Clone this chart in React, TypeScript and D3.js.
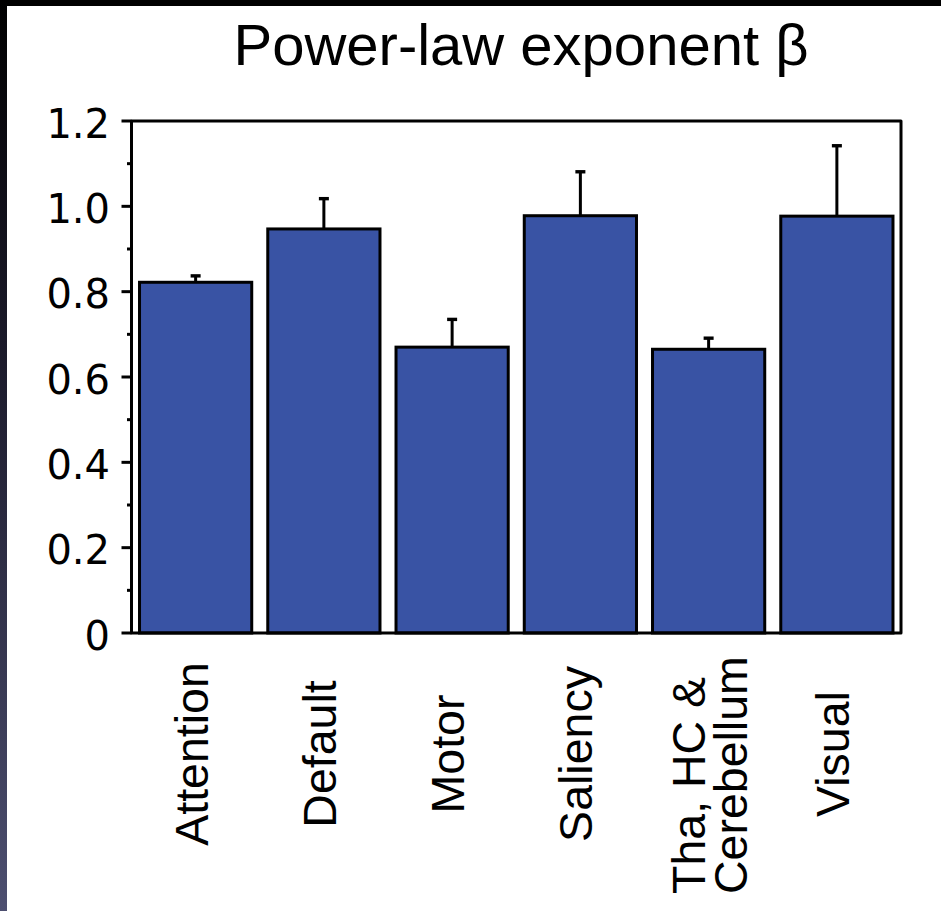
import React from "react";
import * as d3 from "d3";

const categories = ["Attention", "Default", "Motor", "Saliency", "Tha, HC &\nCerebellum", "Visual"];
const betaValues = [0.822, 0.947, 0.670, 0.978, 0.665, 0.977];
const betaErrors = [0.015, 0.071, 0.065, 0.103, 0.026, 0.165];
const yTicks = [0, 0.2, 0.4, 0.6, 0.8, 1.0, 1.2];
const yTickLabels = ["0", "0.2", "0.4", "0.6", "0.8", "1.0", "1.2"];
const yMinorTicks = [0.1, 0.3, 0.5, 0.7, 0.9, 1.1];
const title = "Power-law exponent β";

const W = 941;
const H = 911;
const plot = { left: 131.5, right: 901, top: 121, bottom: 633 };

export default function App() {
  const x = d3
    .scaleBand<string>()
    .domain(categories)
    .range([plot.left, plot.right])
    .paddingInner(0.125)
    .paddingOuter(0.0625);
  const y = d3.scaleLinear().domain([0, 1.2]).range([plot.bottom, plot.top]);
  const bw = x.bandwidth();
  const capW = 10;
  const sansFont = "'Liberation Sans', Arial, Helvetica, sans-serif";
  const tickFont = "'DejaVu Sans', Verdana, sans-serif";
  const sw = 3;

  return (
    <svg
      width={W}
      height={H}
      viewBox={`0 0 ${W} ${H}`}
      style={{ position: "absolute", left: 0, top: 0, display: "block" }}
    >
      <defs>
        <linearGradient id="leftStrip" x1="0" y1="0" x2="0" y2="1">
          <stop offset="0" stopColor="#000000" />
          <stop offset="0.4" stopColor="#1c1b2c" />
          <stop offset="1" stopColor="#4d4f70" />
        </linearGradient>
      </defs>
      <rect x={0} y={0} width={W} height={H} fill="#ffffff" />
      <rect x={0} y={0} width={W} height={6} fill="#000000" />
      <rect x={0} y={0} width={7} height={H} fill="url(#leftStrip)" />

      {/* title */}
      <text
        x={521}
        y={65}
        textAnchor="middle"
        fontFamily={sansFont}
        fontSize={58}
        fill="#000"
      >
        {title}
      </text>

      {/* bars */}
      {categories.map((c, i) => {
        const x0 = x(c) as number;
        const v = betaValues[i];
        return (
          <rect
            key={"bar" + i}
            x={x0}
            y={y(v)}
            width={bw}
            height={y(0) - y(v)}
            fill="#3953a4"
            stroke="#000"
            strokeWidth={sw}
          />
        );
      })}

      {/* error bars */}
      {categories.map((c, i) => {
        const cx = (x(c) as number) + bw / 2;
        const v = betaValues[i];
        const top = v + betaErrors[i];
        return (
          <g key={"err" + i} stroke="#000" strokeWidth={3}>
            <line x1={cx} x2={cx} y1={y(v)} y2={y(top)} />
            <line x1={cx - capW / 2} x2={cx + capW / 2} y1={y(top)} y2={y(top)} strokeWidth={3.4} />
          </g>
        );
      })}

      {/* frame */}
      <path
        d={`M${plot.left},${plot.bottom} L${plot.left},${plot.top} L${plot.right},${plot.top} L${plot.right},${plot.bottom} Z`}
        fill="none"
        stroke="#000"
        strokeWidth={sw}
        strokeLinejoin="round"
      />

      {/* y ticks */}
      {yTicks.map((t, i) => (
        <g key={"yt" + i}>
          <line x1={plot.left - 10} x2={plot.left} y1={y(t)} y2={y(t)} stroke="#000" strokeWidth={sw} />
          <text
            x={110}
            y={y(t) + 16.5}
            textAnchor="end"
            fontFamily={tickFont}
            fontSize={40}
            fill="#000"
          >
            {yTickLabels[i]}
          </text>
        </g>
      ))}
      {yMinorTicks.map((t, i) => (
        <line
          key={"ym" + i}
          x1={plot.left - 4.5}
          x2={plot.left}
          y1={y(t)}
          y2={y(t)}
          stroke="#000"
          strokeWidth={sw}
        />
      ))}

      {/* x labels */}
      {categories.map((c, i) => {
        const cx = (x(c) as number) + bw / 2;
        const lines = c.split("\n");
        const n = lines.length;
        if (n === 1) {
          const bx = cx + 12;
          const by = 754;
          return (
            <text
              key={"xl" + i}
              transform={`translate(${bx},${by}) rotate(-90)`}
              textAnchor="middle"
              fontFamily={sansFont}
              fontSize={46.5}
              fill="#000"
            >
              {c}
            </text>
          );
        }
        return (
          <g key={"xl" + i}>
            {lines.map((ln, j) => (
              <text
                key={j}
                transform={`translate(${cx - 4 + j * 42 - (n - 2) * 17},${894}) rotate(-90)`}
                textAnchor="start"
                fontFamily={sansFont}
                fontSize={46.5}
                fill="#000"
              >
                {ln}
              </text>
            ))}
          </g>
        );
      })}
    </svg>
  );
}
